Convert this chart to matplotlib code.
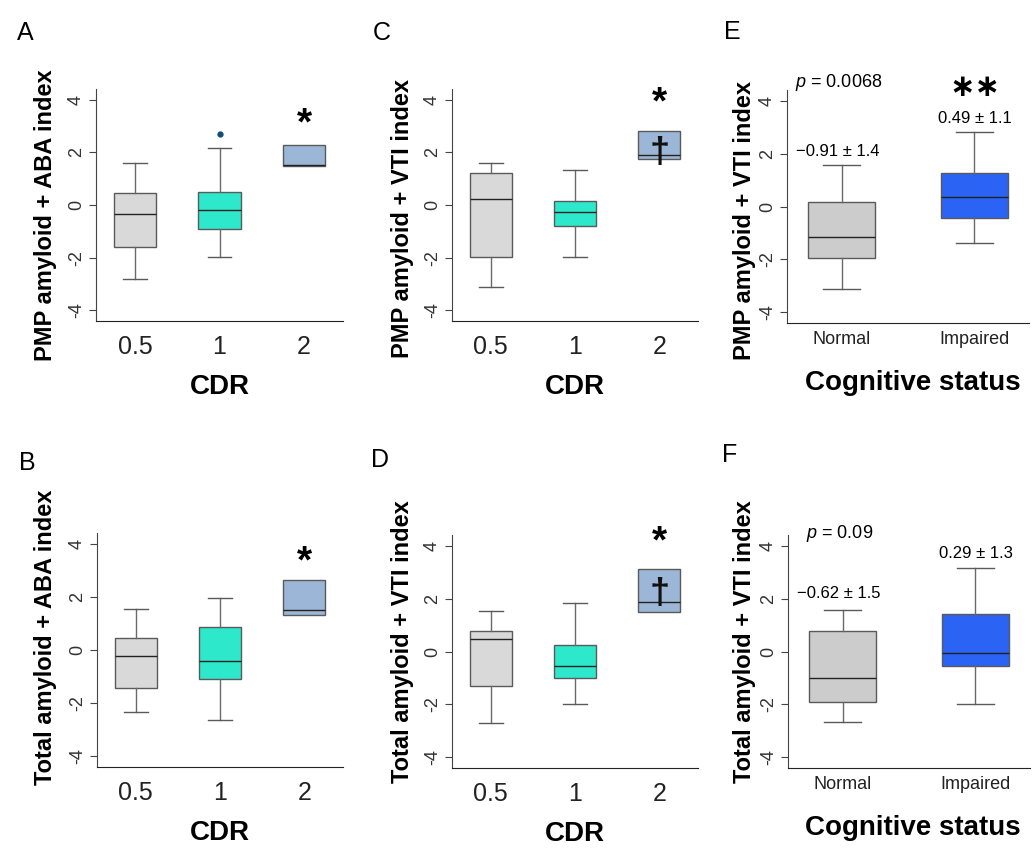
import matplotlib
matplotlib.use('Agg')
import matplotlib.pyplot as plt

plt.rcParams['font.family'] = ['Liberation Sans', 'DejaVu Sans']
plt.rcParams['mathtext.fontset'] = 'custom'
plt.rcParams['mathtext.it'] = 'Liberation Sans:italic'
plt.rcParams['mathtext.rm'] = 'Liberation Sans'

# category labels
cdr_labels = ['0.5', '1', '2']
status_labels = ['Normal', 'Impaired']

# five-number summaries per box: [whisker low, Q1, median, Q3, whisker high]
a_stats = [[-2.82, -1.58, -0.34, 0.45, 1.58],
           [-1.96, -0.90, -0.20, 0.49, 2.18],
           [1.49, 1.49, 1.53, 2.26, 2.26]]
a_outliers = [[], [2.70], []]

c_stats = [[-3.10, -1.96, 0.22, 1.20, 1.60],
           [-1.98, -0.78, -0.27, 0.14, 1.32],
           [1.74, 1.74, 1.90, 2.80, 2.80]]

e_stats = [[-3.13, -1.96, -1.17, 0.18, 1.58],
           [-1.36, -0.42, 0.36, 1.28, 2.82]]

b_stats = [[-2.33, -1.43, -0.22, 0.46, 1.54],
           [-2.65, -1.10, -0.41, 0.85, 1.95],
           [1.33, 1.33, 1.52, 2.62, 2.62]]

d_stats = [[-2.69, -1.31, 0.48, 0.79, 1.54],
           [-2.00, -1.00, -0.56, 0.23, 1.84],
           [1.48, 1.48, 1.88, 3.13, 3.13]]

f_stats = [[-2.68, -1.91, -1.00, 0.79, 1.56],
           [-2.00, -0.55, -0.05, 1.40, 3.15]]

# group summaries shown in E and F
e_p = '0.0068'
e_mean_sd = ['\u22120.91 \u00b1 1.4', '0.49 \u00b1 1.1']
f_p = '0.09'
f_mean_sd = ['\u22120.62 \u00b1 1.5', '0.29 \u00b1 1.3']

cdr_colors = ['#d9d9d9', '#2ee8cb', '#9bb6d6']
status_colors = ['#cccccc', '#2b63f4']

W, H = 1033, 850
fig = plt.figure(figsize=(W / 100, H / 100), dpi=100)


def rect(l, t, r, b):
    return [l / W, 1 - b / H, (r - l) / W, (b - t) / H]


def draw_box(ax, stats, labels, colors, outliers=None, no_whisk=()):
    bxp_stats = []
    for i, s in enumerate(stats):
        bxp_stats.append(dict(whislo=s[0], q1=s[1], med=s[2], q3=s[3], whishi=s[4],
                              fliers=outliers[i] if outliers else [], label=labels[i]))
    pos = list(range(1, len(stats) + 1))
    res = ax.bxp(bxp_stats, positions=pos, widths=0.5, patch_artist=True,
                 showfliers=True, capwidths=0.28,
                 boxprops=dict(edgecolor='#5a5a5a', linewidth=1.0),
                 medianprops=dict(color='#222222', linewidth=1.0),
                 whiskerprops=dict(color='#6a6a6a', linewidth=1.0),
                 capprops=dict(color='#5a5a5a', linewidth=1.0),
                 flierprops=dict(marker='o', markersize=3.5, markerfacecolor='#0e4d7c',
                                 markeredgecolor='#0e4d7c'))
    for patch, col in zip(res['boxes'], colors):
        patch.set_facecolor(col)
    for i in no_whisk:
        for art in res['caps'][2 * i:2 * i + 2] + res['whiskers'][2 * i:2 * i + 2]:
            art.set_visible(False)
    ax.set_ylim(-4.4, 4.4)
    ax.set_yticks([-4, -2, 0, 2, 4])
    ax.set_yticklabels(['-4', '-2', '0', '2', '4'], rotation=90, va='center',
                       fontsize=13, color='#333333')
    for sp in ['top', 'right']:
        ax.spines[sp].set_visible(False)
    ax.spines['left'].set_color('#444444')
    ax.spines['bottom'].set_color('#222222')
    ax.tick_params(axis='y', length=5, color='#444444', pad=3)
    ax.tick_params(axis='x', length=0, pad=10)


def cdr_panel(r, stats, ylabel, lx, ly, star_y, dagger_y=None, outliers=None):
    ax = fig.add_axes(rect(*r))
    draw_box(ax, stats, cdr_labels, cdr_colors, outliers, no_whisk=(2,))
    ax.set_xlim(0.54, 3.46)
    ax.set_xticks([1, 2, 3])
    ax.set_xticklabels(cdr_labels, fontsize=18, color='#222222')
    ax.text(3, star_y, '*', ha='center', va='center', fontsize=28, fontweight='bold',
            clip_on=False)
    if dagger_y is not None:
        ax.text(3, dagger_y, '\u2020', ha='center', va='center', fontsize=26,
                fontweight='bold', color='#111111')
    fig.text(lx / W, 1 - ly / H, ylabel, rotation=90, ha='center', va='center',
             fontsize=17, fontweight='bold')
    fig.text((r[0] + r[2]) / 2 / W, 1 - (r[3] + 66) / H, 'CDR', ha='center',
             va='center', fontsize=20, fontweight='bold')
    return ax


def status_panel(r, stats, ylabel, lx, ly, p, mean_sd, p_y, ms_y, star=None):
    ax = fig.add_axes(rect(*r))
    draw_box(ax, stats, status_labels, status_colors)
    ax.set_xlim(0.59, 2.41)
    ax.set_xticks([1, 2])
    ax.set_xticklabels(status_labels, fontsize=13, color='#222222')
    ax.tick_params(axis='x', pad=6)
    ax.text(0.98, p_y, '$p$ = ' + p, ha='center', va='center', fontsize=13,
            clip_on=False)
    ax.text(0.97, ms_y[0], mean_sd[0], ha='center', va='center', fontsize=12,
            clip_on=False)
    ax.text(2.0, ms_y[1], mean_sd[1], ha='center', va='center', fontsize=12,
            clip_on=False)
    if star is not None:
        ax.text(2.0, star, '\u2217\u2217', ha='center', va='center', fontsize=22,
                fontweight='bold', family='DejaVu Sans', clip_on=False)
    fig.text(lx / W, 1 - ly / H, ylabel, rotation=90, ha='center', va='center',
             fontsize=17, fontweight='bold')
    fig.text(913 / W, 1 - (r[3] + 60) / H, 'Cognitive status', ha='center',
             va='center', fontsize=20, fontweight='bold')
    return ax


cdr_panel((96, 89, 343, 321), a_stats, 'PMP amyloid + ABA index', 46, 215, 3.05,
          outliers=a_outliers)
cdr_panel((452, 89, 698, 321), c_stats, 'PMP amyloid + VTI index', 402, 219, 3.85,
          dagger_y=1.95)
status_panel((787, 90, 1029, 323), e_stats, 'PMP amyloid + VTI index', 745, 220,
             e_p, e_mean_sd, 4.7, [2.08, 3.33], star=4.5)

cdr_panel((97, 533, 343, 767), b_stats, 'Total amyloid + ABA index', 46, 637, 3.3)
cdr_panel((452, 535, 698, 768), d_stats, 'Total amyloid + VTI index', 402, 642, 4.1,
          dagger_y=2.17)
status_panel((788, 535, 1030, 768), f_stats, 'Total amyloid + VTI index', 744, 642,
             f_p, f_mean_sd, 4.47, [2.18, 3.72])

# panel letters
for letter, x, y in [('A', 25, 33), ('C', 382, 33), ('E', 732, 32),
                     ('B', 27, 463), ('D', 380, 460), ('F', 730, 455)]:
    fig.text(x / W, 1 - y / H, letter, ha='center', va='center', fontsize=18)

fig.savefig('out.png', dpi=100)
